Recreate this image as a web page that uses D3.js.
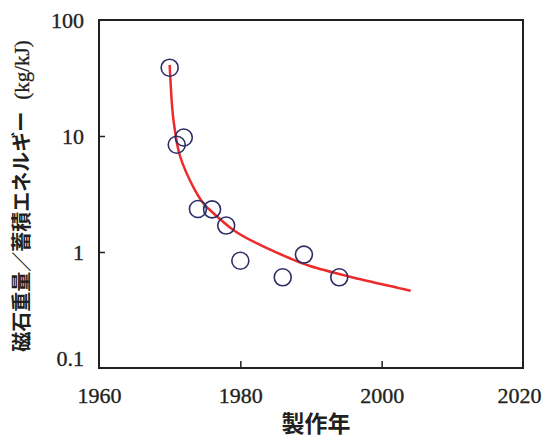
<!DOCTYPE html>
<html>
<head>
<meta charset="utf-8">
<script src="https://cdn.jsdelivr.net/npm/d3@7"></script>
<style>
  html, body { margin: 0; padding: 0; background: #fff; }
  svg { display: block; }
</style>
</head>
<body>
<svg id="chart" width="546" height="440"></svg>
<script>
// ---- data ----
const pointYears  = [1970, 1971, 1972, 1974, 1976, 1978, 1980, 1986, 1989, 1994];
const pointValues = [38.8, 8.4, 9.7, 2.35, 2.33, 1.69, 0.84, 0.605, 0.95, 0.605];

const curveYears  = [1970.0, 1970.33, 1970.57, 1971.42, 1973.44, 1974.96, 1975.7, 1979.0, 1982.3, 1987.0, 1989.86, 1995.5, 2002.6, 2004.1];
const curveValues = [40.9,   18.5,    13.3,    6.86,    3.54,    2.54,    2.30,   1.55,   1.19,   0.883,  0.757,   0.612,  0.486,  0.463];

const xTicks = [1960, 1980, 2000, 2020];
const yTicks = [0.1, 1, 10, 100];
const yTickLabels = ["0.1", "1", "10", "100"];
const xTitle = "製作年";
const yTitleMain = "磁石重量／蓄積エネルギー";
const yTitleUnit = "(kg/kJ)";

// ---- layout ----
const svg = d3.select("#chart");
const plotL = 99, plotR = 523, plotT = 20, plotB = 368;
const x = d3.scaleLinear().domain([1960, 2020]).range([plotL, plotR]);
const y = d3.scaleLog().domain([0.1, 100]).range([plotB, plotT]);

const axisColor = "#231f20";
const numFont = "'Liberation Serif', 'DejaVu Serif', serif";
const cjkFont = "'Noto Sans CJK JP', 'Noto Sans CJK SC', sans-serif";

// frame
svg.append("rect")
  .attr("x", plotL).attr("y", plotT)
  .attr("width", plotR - plotL).attr("height", plotB - plotT)
  .attr("fill", "none").attr("stroke", axisColor).attr("stroke-width", 2);

// y axis
const yAxis = svg.append("g")
  .attr("transform", `translate(${plotL},0)`)
  .call(d3.axisLeft(y).tickValues(yTicks)
    .tickFormat((d, i) => yTickLabels[i])
    .tickSizeInner(-6).tickSizeOuter(0).tickPadding(15));
yAxis.select(".domain").remove();
yAxis.selectAll(".tick line").attr("stroke", axisColor).attr("stroke-width", 1.5)
  .filter(d => d === 0.1 || d === 100).remove();
yAxis.selectAll(".tick text")
  .attr("font-family", numFont).attr("font-size", 22).attr("fill", "#231f20")
  .attr("stroke", "#231f20").attr("stroke-width", 0.35)
  .filter(d => d === 0.1).attr("dy", "-0.12em");

// x axis
const xAxis = svg.append("g")
  .attr("transform", `translate(0,${plotB})`)
  .call(d3.axisBottom(x).tickValues(xTicks).tickFormat(d3.format("d"))
    .tickSizeInner(-7).tickSizeOuter(0).tickPadding(19));
xAxis.select(".domain").remove();
xAxis.selectAll(".tick line").attr("stroke", axisColor).attr("stroke-width", 1.5)
  .filter(d => d === 1960 || d === 2020).remove();
xAxis.selectAll(".tick text")
  .attr("font-family", numFont).attr("font-size", 22).attr("fill", "#231f20")
  .attr("stroke", "#231f20").attr("stroke-width", 0.35)
  .filter(d => d === 2020).attr("dx", -4);

// axis titles
svg.append("text")
  .attr("x", 316).attr("y", 432)
  .attr("text-anchor", "middle")
  .attr("font-family", cjkFont).attr("font-weight", 700).attr("font-size", 23)
  .attr("fill", "#231f20")
  .text(xTitle);

const yt = svg.append("text")
  .attr("transform", "translate(29,196) rotate(-90)")
  .attr("text-anchor", "middle")
  .attr("fill", "#231f20");
yt.append("tspan")
  .attr("font-family", cjkFont).attr("font-weight", 700).attr("font-size", 20)
  .text(yTitleMain);
yt.append("tspan")
  .attr("font-family", numFont).attr("font-size", 21).attr("dx", 12)
  .attr("stroke", "#231f20").attr("stroke-width", 0.3)
  .text(yTitleUnit);

// fit curve
const curveData = curveYears.map((yr, i) => [yr, curveValues[i]]);
svg.append("path")
  .datum(curveData)
  .attr("fill", "none")
  .attr("stroke", "#ee2a2a")
  .attr("stroke-width", 2.5)
  .attr("d", d3.line().x(d => x(d[0])).y(d => y(d[1])).curve(d3.curveCatmullRom.alpha(0.5)));

// data points
const pts = pointYears.map((yr, i) => [yr, pointValues[i]]);
svg.append("g").selectAll("circle")
  .data(pts).join("circle")
  .attr("cx", d => x(d[0])).attr("cy", d => y(d[1]))
  .attr("r", 8.5)
  .attr("fill", "none")
  .attr("stroke", "#2b2f66")
  .attr("stroke-width", 1.6);
</script>
</body>
</html>
